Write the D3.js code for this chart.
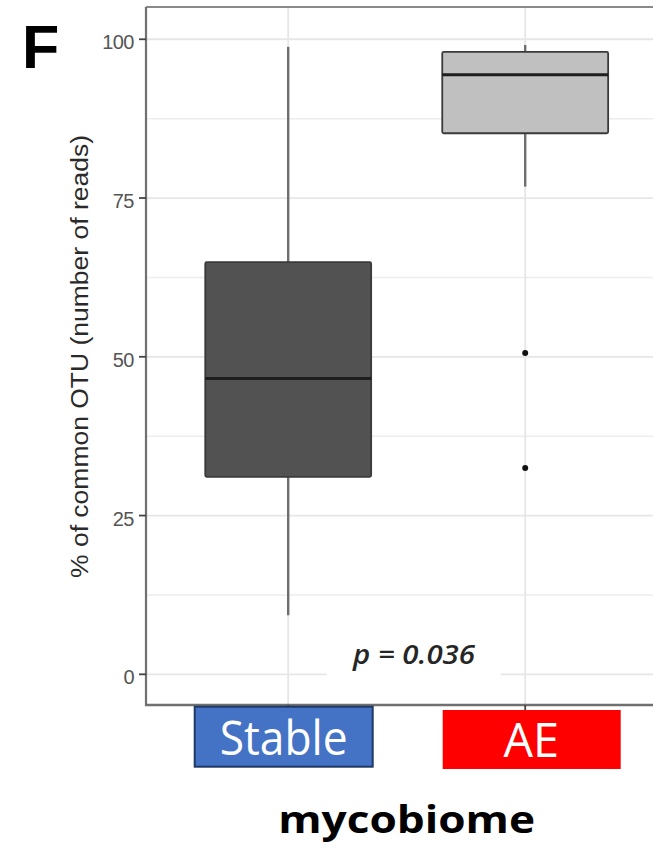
<!DOCTYPE html>
<html>
<head>
<meta charset="utf-8">
<script src="https://cdn.jsdelivr.net/npm/d3@7"></script>
<style>
  html, body { margin: 0; padding: 0; background: #fff; }
  svg { display: block; }
</style>
</head>
<body>
<div id="chart"></div>
<script>
// ---- data ----
const categories = ["Stable", "AE"];
const lowerWhisker = [9.3, 76.8];
const q1 = [31.1, 85.2];
const median = [46.6, 94.4];
const q3 = [64.9, 98.0];
const upperWhisker = [98.8, 99.1];
const outliers = [[], [50.6, 32.5]];
const yTicks = [0, 25, 50, 75, 100];
const yMinorTicks = [12.5, 37.5, 62.5, 87.5];
const yTitle = "% of common OTU (number of reads)";
const pLabel = "p = 0.036";
const xTitle = "mycobiome";
const panelLetter = "F";

// ---- styles ----
const W = 653, H = 850;
const boxFills = ["#525252", "#c0c0c0"];
const labelFills = ["#4472C4", "#FF0000"];
const labelStrokes = ["#1F3864", "none"];

const svg = d3.select("#chart").append("svg").attr("width", W).attr("height", H);

const x = d3.scaleLinear().domain([0.4, 2.6]).range([146, 146 + 2.2 * 237]);
const y = d3.scaleLinear().domain([-4.83, 105.08]).range([705, 7]);
const panelLeft = x(0.4), panelTop = y(105.08), panelBottom = y(-4.83);

// grid
const g = svg.append("g");
g.selectAll("line.minor").data(yMinorTicks).join("line")
  .attr("x1", panelLeft).attr("x2", W).attr("y1", d => y(d)).attr("y2", d => y(d))
  .attr("stroke", "#ededed").attr("stroke-width", 1.5);
g.selectAll("line.major").data(yTicks).join("line")
  .attr("x1", panelLeft).attr("x2", W).attr("y1", d => y(d)).attr("y2", d => y(d))
  .attr("stroke", "#e6e6e6").attr("stroke-width", 1.8);
g.selectAll("line.vgrid").data(categories).join("line")
  .attr("x1", (d, i) => x(i + 1)).attr("x2", (d, i) => x(i + 1))
  .attr("y1", panelTop).attr("y2", panelBottom)
  .attr("stroke", "#e6e6e6").attr("stroke-width", 1.8);

// p-value label background box
const pX = (x(1) + x(2)) / 2 + 7;
svg.append("rect").attr("x", pX - 87).attr("y", y(5.5)).attr("width", 174).attr("height", y(-3.5) - y(5.5))
  .attr("fill", "#fff");

// boxes
const bw = 0.7;
const boxes = svg.append("g");
categories.forEach((c, i) => {
  const cx = x(i + 1);
  const half = (x(1 + bw / 2) - x(1));
  // whiskers
  boxes.append("line").attr("x1", cx).attr("x2", cx)
    .attr("y1", y(upperWhisker[i])).attr("y2", y(q3[i]))
    .attr("stroke", "#6e6e6e").attr("stroke-width", 2.4);
  boxes.append("line").attr("x1", cx).attr("x2", cx)
    .attr("y1", y(q1[i])).attr("y2", y(lowerWhisker[i]))
    .attr("stroke", "#6e6e6e").attr("stroke-width", 2.4);
  // box
  boxes.append("rect").attr("x", cx - half).attr("y", y(q3[i]))
    .attr("width", 2 * half).attr("height", y(q1[i]) - y(q3[i]))
    .attr("fill", boxFills[i]).attr("stroke", "#3a3a3a").attr("stroke-width", 1.8)
    .attr("rx", 1.5);
  // median
  boxes.append("line").attr("x1", cx - half).attr("x2", cx + half)
    .attr("y1", y(median[i])).attr("y2", y(median[i]))
    .attr("stroke", "#1e1e1e").attr("stroke-width", 3);
  // outliers
  boxes.selectAll(null).data(outliers[i]).join("circle")
    .attr("cx", cx).attr("cy", d => y(d)).attr("r", 3).attr("fill", "#111");
});

// axes lines / border
svg.append("line").attr("x1", panelLeft).attr("x2", W).attr("y1", panelTop).attr("y2", panelTop)
  .attr("stroke", "#8a8a8a").attr("stroke-width", 2);
svg.append("line").attr("x1", panelLeft).attr("x2", panelLeft).attr("y1", panelTop).attr("y2", panelBottom + 1)
  .attr("stroke", "#707070").attr("stroke-width", 2.2);
svg.append("line").attr("x1", panelLeft - 1).attr("x2", W).attr("y1", panelBottom).attr("y2", panelBottom)
  .attr("stroke", "#707070").attr("stroke-width", 2.4);

// y axis ticks and labels
const yAxis = svg.append("g");
yAxis.selectAll("line").data(yTicks).join("line")
  .attr("x1", panelLeft - 7).attr("x2", panelLeft).attr("y1", d => y(d)).attr("y2", d => y(d))
  .attr("stroke", "#444").attr("stroke-width", 1.8);
yAxis.selectAll("text").data(yTicks).join("text")
  .attr("x", panelLeft - 12).attr("y", d => y(d) + 10)
  .attr("text-anchor", "end")
  .attr("font-family", "'Liberation Sans', Arial, sans-serif")
  .attr("font-size", 20).attr("fill", "#555")
  .attr("letter-spacing", -0.5)
  .text(d => d);

// x tick (visible for AE)
svg.selectAll("line.xt").data(categories).join("line")
  .attr("x1", (d, i) => x(i + 1)).attr("x2", (d, i) => x(i + 1))
  .attr("y1", panelBottom).attr("y2", panelBottom + 6)
  .attr("stroke", "#444").attr("stroke-width", 1.8);

// y title
svg.append("text")
  .attr("transform", `translate(88, ${(135 + 578) / 2}) rotate(-90)`)
  .attr("text-anchor", "middle")
  .attr("font-family", "'Liberation Sans', Arial, sans-serif")
  .attr("font-size", 23).attr("fill", "#2a2a2a")
  .attr("textLength", 443).attr("lengthAdjust", "spacingAndGlyphs")
  .text(yTitle);

// p-value
svg.append("text")
  .attr("x", 353).attr("y", 663.5)
  .attr("font-family", "'Open Sans', sans-serif")
  .attr("font-style", "italic").attr("font-weight", 600)
  .attr("font-size", 27).attr("fill", "#262626")
  .attr("textLength", 122).attr("lengthAdjust", "spacingAndGlyphs")
  .text(pLabel);

// category label boxes
const labelOffsets = [-4.5, 6.5];
const labelTops = [706.7, 710];
const labelHeights = [60, 59];
const labelTextLen = [128, 55.6];
categories.forEach((c, i) => {
  const cx = x(i + 1) + labelOffsets[i];
  svg.append("rect").attr("x", cx - 89).attr("y", labelTops[i])
    .attr("width", 178).attr("height", labelHeights[i])
    .attr("fill", labelFills[i])
    .attr("stroke", labelStrokes[i]).attr("stroke-width", labelStrokes[i] === "none" ? 0 : 2);
  svg.append("text").attr("x", cx + (i === 0 ? 0 : -0.5)).attr("y", i === 0 ? 755 : 757.3)
    .attr("text-anchor", "middle")
    .attr("font-family", "'Open Sans', 'Noto Sans', sans-serif")
    .attr("font-size", 48).attr("fill", "#fff")
    .attr("textLength", labelTextLen[i]).attr("lengthAdjust", "spacingAndGlyphs")
    .text(c);
});

// x title
svg.append("text")
  .attr("x", (278.3 + 535) / 2).attr("y", 833.3)
  .attr("text-anchor", "middle")
  .attr("font-family", "'Open Sans', 'Noto Sans', sans-serif")
  .attr("font-weight", 700).attr("font-size", 37).attr("fill", "#000")
  .attr("textLength", 257).attr("lengthAdjust", "spacingAndGlyphs")
  .text(xTitle);

// panel letter
svg.append("text")
  .attr("x", 22).attr("y", 68.3)
  .attr("font-family", "'Liberation Sans', Arial, sans-serif")
  .attr("font-weight", 700).attr("font-size", 61).attr("fill", "#000")
  .text(panelLetter);
</script>
</body>
</html>
